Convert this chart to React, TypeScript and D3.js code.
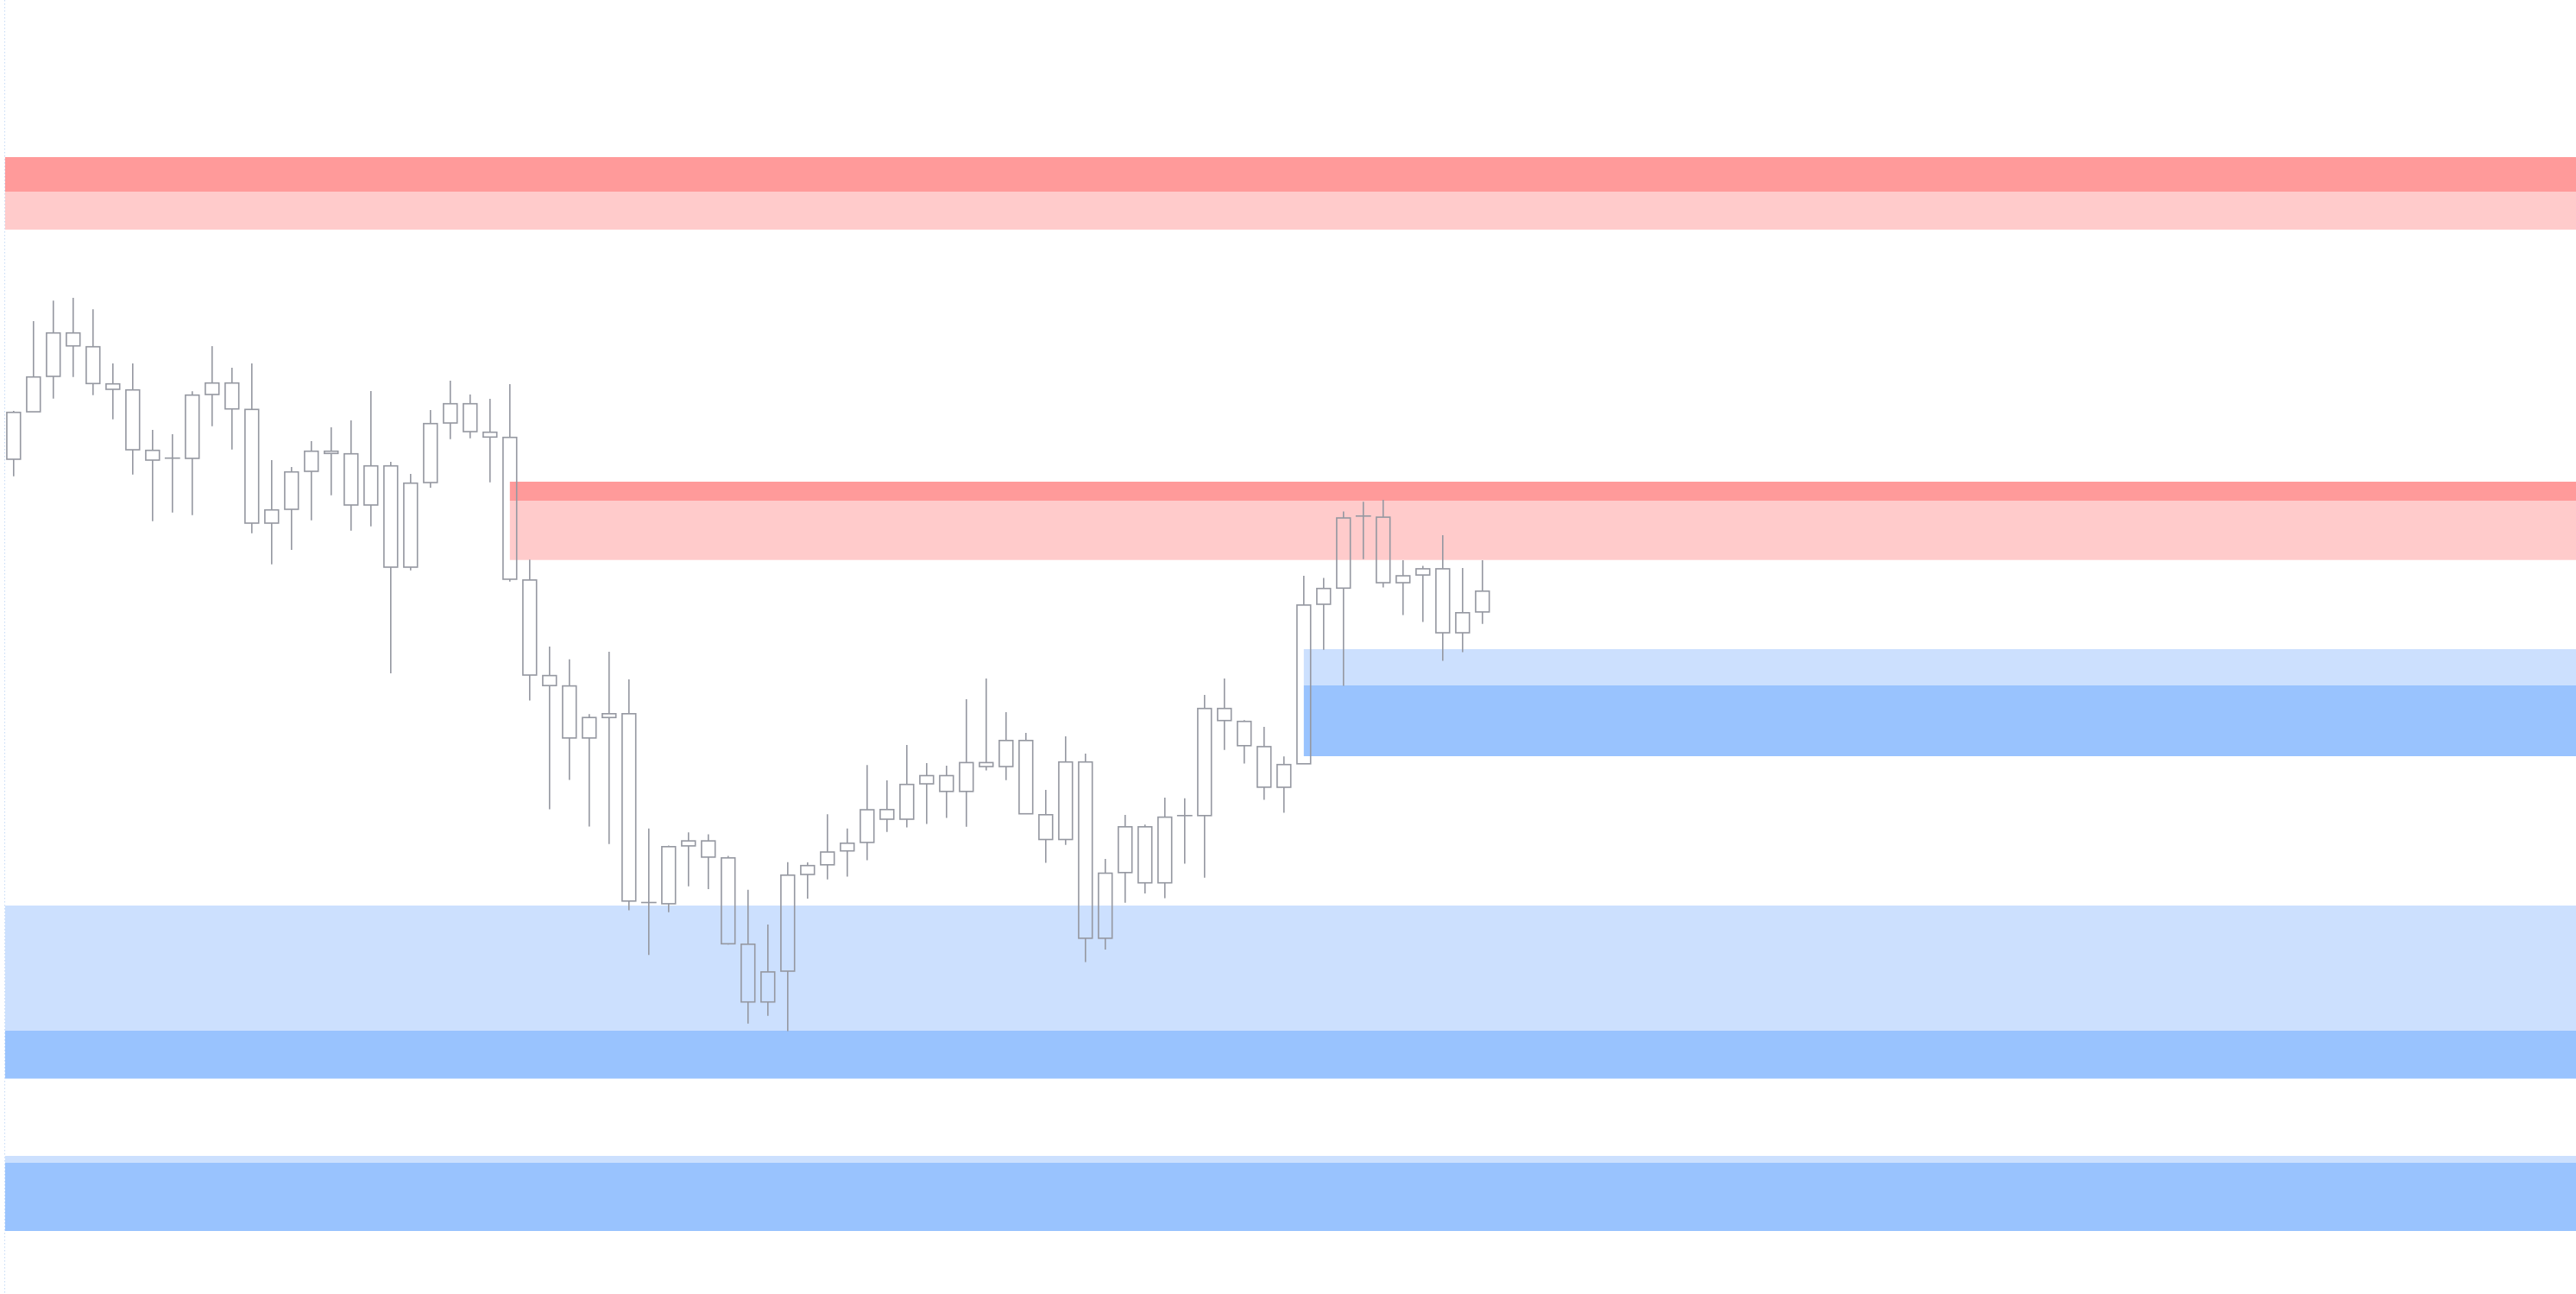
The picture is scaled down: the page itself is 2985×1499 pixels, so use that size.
import React from "react";
import * as d3 from "d3";

const W = 2985;
const H = 1499;

// Candle OHLC values (price units), one per bar
const opens = [
  968, 1023, 1064, 1114.3, 1098.3, 1055.3, 1048.3, 978.3, 969.3, 969,
  1043, 1056.3, 1025.7, 894, 910, 954, 977.3, 974.3, 915, 960.3,
  843, 941, 1010, 1032.3, 999.3, 993.3, 828.1, 717.4, 705.4, 645.1,
  668.8, 673.2, 454.5, 453.1, 520.1, 525.9, 506.2, 406.2, 339.3, 375,
  487, 498.2, 514.3, 524.1, 562.2, 551, 592, 601.5, 583.2, 616.6,
  612, 642.2, 556.2, 527.5, 617.3, 413.1, 489.2, 542.2, 477.3, 555.2,
  555.2, 679.3, 664.3, 635.1, 588, 615.2, 800, 818.7, 902.2, 900.9,
  825, 833.9, 841.1, 767, 791.1,
];
const highs = [
  1024, 1128, 1151.7, 1155, 1141.7, 1079, 1079, 1002, 997, 1046.7,
  1099, 1074, 1079, 967, 959, 989, 1005, 1013, 1047, 965,
  951, 1025, 1059, 1043, 1038, 1055, 851.7, 751, 736.2, 672.8,
  745.1, 713, 540.2, 520.5, 535.7, 533.5, 508.5, 469.2, 429, 501.3,
  500.9, 556.7, 540.2, 613.8, 595.9, 636.9, 615.9, 613, 689.9, 714.1,
  675.1, 650.9, 585, 647.1, 627.1, 505, 555.9, 544.7, 575.9, 575.2,
  695.1, 714.1, 665.7, 657.9, 623.7, 833, 830.4, 907.6, 918.7, 921,
  850.9, 844.6, 879.9, 842, 850.9,
];
const lows = [
  948.3, 1023, 1038.3, 1063.3, 1042.3, 1014.3, 950.3, 896.3, 906.3, 903.3,
  1006.3, 979.3, 882.3, 846.3, 863, 897.3, 926.3, 885.3, 890.3, 720,
  839.3, 935, 991.3, 992.3, 941.3, 826.3, 688.4, 562.5, 596.4, 542.4,
  522.3, 445.5, 393.7, 443.3, 473.2, 470.1, 405.8, 314.3, 323.2, 305.4,
  459, 481.2, 484.4, 503.6, 536.2, 541.5, 545.4, 552.4, 542.2, 607.4,
  596.2, 557.3, 500.5, 521.2, 385.4, 400.1, 454.2, 465, 459.4, 499.4,
  483.3, 631.3, 615.5, 573.4, 558.5, 615.2, 747.3, 705.4, 852.2, 819.6,
  787.5, 779.5, 734.4, 744.6, 777.2,
];
const closes = [
  1022.3, 1063.3, 1114.3, 1099.3, 1055.7, 1049, 979, 967, 969.3, 1042.3,
  1056.3, 1026.3, 894, 909.3, 953.3, 977.3, 974.7, 915, 960.3, 843,
  940.3, 1009.3, 1032.3, 1000, 993.7, 829, 718, 705.8, 645.1, 668.8,
  673.2, 456.2, 454.5, 519.2, 525.9, 507.1, 406.7, 339.3, 374.1, 486.2,
  497.3, 513, 523.2, 562, 551, 591.3, 601.5, 583.2, 616.6, 612,
  642.2, 557.3, 527.5, 617.3, 413.1, 488.5, 542.2, 477.3, 553.4, 555.2,
  679.3, 665.3, 636.2, 588.1, 614.3, 799.1, 818.3, 900, 902.2, 825,
  833, 841.1, 767, 790.2, 815.2,
];

// Supply / demand zones: start bar index, strong band and weak band (price ranges)
const zoneKinds = ["supply", "supply", "demand", "demand", "demand"];
const zoneStarts = [-0.43, 25, 65, -0.43, -0.43];
const zoneStrongLow = [1278, 920, 624, 250.5, 74];
const zoneStrongHigh = [1318, 942, 706, 306, 153];
const zoneWeakLow = [1234, 851.3, 706, 306, 153];
const zoneWeakHigh = [1278, 920, 748, 451, 161];

const COLORS = {
  supplyStrong: "#ff9a9a",
  supplyWeak: "#ffcbcb",
  demandStrong: "#99c3fe",
  demandWeak: "#cce0fe",
  candle: "#9598a1",
};

export default function App() {
  const n = opens.length;
  const x = d3.scaleLinear().domain([0, n - 1]).range([15.8, 15.8 + 23 * (n - 1)]);
  const y = d3.scaleLinear().domain([0, 1500]).range([1500, 0]);
  const bw = 15.8;

  const candles = d3.range(n).map((i) => ({
    i,
    o: opens[i],
    h: highs[i],
    l: lows[i],
    c: closes[i],
  }));

  const zones = zoneKinds.map((k, j) => ({
    k,
    start: zoneStarts[j],
    sLo: zoneStrongLow[j],
    sHi: zoneStrongHigh[j],
    wLo: zoneWeakLow[j],
    wHi: zoneWeakHigh[j],
  }));

  return (
    <div style={{ position: "absolute", left: 0, top: 0, width: W, height: H, background: "#ffffff" }}>
      <svg width={W} height={H} style={{ display: "block" }}>
        <rect x={0} y={0} width={W} height={H} fill="#ffffff" />
        <line x1={5.5} x2={5.5} y1={0} y2={H} stroke="#c6dbf6" strokeWidth={1} strokeDasharray="1.5 2.5" />
        {zones.map((z, j) => {
          const x0 = x(z.start);
          const strong = z.k === "supply" ? COLORS.supplyStrong : COLORS.demandStrong;
          const weak = z.k === "supply" ? COLORS.supplyWeak : COLORS.demandWeak;
          return (
            <g key={j}>
              <rect x={x0} y={y(z.wHi)} width={W - x0} height={y(z.wLo) - y(z.wHi)} fill={weak} />
              <rect x={x0} y={y(z.sHi)} width={W - x0} height={y(z.sLo) - y(z.sHi)} fill={strong} />
            </g>
          );
        })}
        {candles.map((d) => {
          const cx = x(d.i);
          const top = y(Math.max(d.o, d.c));
          const bot = y(Math.min(d.o, d.c));
          const hi = y(d.h);
          const lo = y(d.l);
          const doji = bot - top < 0.8;
          return (
            <g key={d.i} stroke={COLORS.candle} strokeWidth={1.6} fill="none">
              {top - hi > 0.5 && <line x1={cx} x2={cx} y1={hi} y2={top} />}
              {lo - bot > 0.5 && <line x1={cx} x2={cx} y1={bot} y2={lo} />}
              {doji ? (
                <line x1={cx - bw / 2 - 1} x2={cx + bw / 2 + 1} y1={top} y2={top} />
              ) : (
                <rect x={cx - bw / 2} y={top} width={bw} height={bot - top} />
              )}
            </g>
          );
        })}
      </svg>
    </div>
  );
}
